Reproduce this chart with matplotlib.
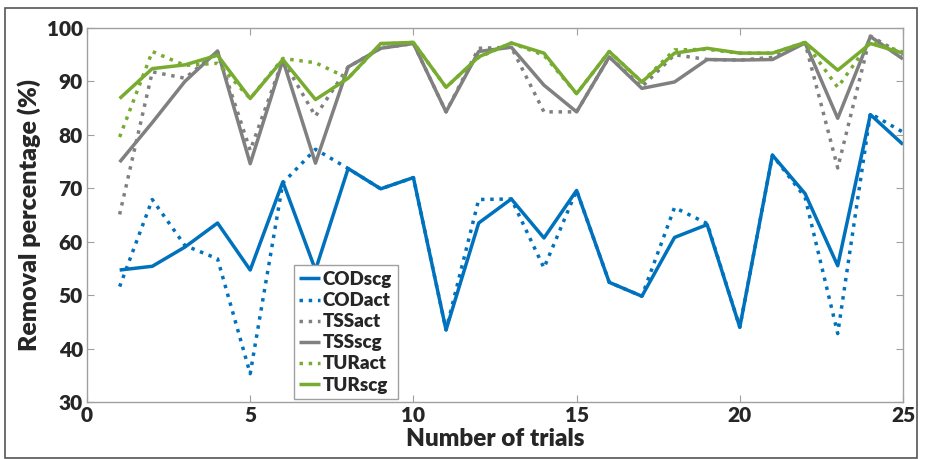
import matplotlib
matplotlib.use("Agg")
import matplotlib.pyplot as plt
from matplotlib.patches import Rectangle
import numpy as np

trials = list(range(1, 26))
cod_scg = [54.7, 55.4, 59.0, 63.5, 54.7, 71.2, 54.7, 73.7, 69.9, 72.0, 43.5, 63.5, 68.0,
           60.7, 69.6, 52.4, 49.8, 60.8, 63.2, 44.0, 76.2, 69.0, 55.5, 83.8, 78.2]
cod_act = [51.6, 67.9, 59.3, 56.8, 35.3, 71.0, 77.3, 73.7, 69.9, 72.0, 43.5, 67.9, 68.0,
           55.1, 69.6, 52.4, 49.8, 66.4, 63.4, 44.0, 76.2, 68.3, 42.8, 84.0, 80.5]
tss_act = [65.1, 91.8, 90.6, 95.6, 77.1, 94.0, 83.5, 92.7, 96.2, 97.1, 84.3, 96.2, 96.4,
           84.3, 84.3, 94.6, 89.0, 95.0, 94.1, 94.0, 94.5, 97.2, 73.8, 98.5, 95.0]
tss_scg = [74.9, 82.3, 90.0, 95.7, 74.6, 94.0, 74.7, 92.7, 96.2, 97.1, 84.3, 95.6, 96.4,
           89.3, 84.3, 94.6, 88.7, 89.9, 94.1, 94.0, 94.1, 97.2, 83.1, 98.4, 94.2]
tur_act = [79.6, 95.6, 93.0, 93.4, 86.8, 94.3, 93.5, 90.6, 97.0, 97.3, 88.9, 94.5, 97.2,
           94.9, 87.7, 95.6, 89.9, 95.9, 96.0, 95.3, 95.3, 97.3, 88.9, 97.5, 95.5]
tur_scg = [86.8, 92.4, 93.1, 94.9, 86.8, 94.1, 86.6, 90.6, 97.1, 97.3, 88.9, 94.6, 97.2,
           95.3, 87.7, 95.6, 89.9, 95.3, 96.2, 95.3, 95.3, 97.3, 92.1, 97.1, 95.3]

series = [
    ("CODscg", cod_scg, "#0072BD", "-"),
    ("CODact", cod_act, "#0072BD", ":"),
    ("TSSact", tss_act, "#808080", ":"),
    ("TSSscg", tss_scg, "#808080", "-"),
    ("TURact", tur_act, "#77AC30", ":"),
    ("TURscg", tur_scg, "#77AC30", "-"),
]
xticks = [0, 5, 10, 15, 20, 25]
yticks = [30, 40, 50, 60, 70, 80, 90, 100]

plt.rcParams['font.family'] = ['Lato', 'DejaVu Sans']
plt.rcParams['font.weight'] = 'bold'

fig = plt.figure(figsize=(9.25, 4.59), dpi=100)
W, H = 925, 459
ax = fig.add_axes([87 / W, 1 - 402 / H, (903 - 87) / W, (402 - 28) / H])

for name, vals, col, ls in series:
    ax.plot(trials, vals, color=col, linestyle=ls, linewidth=2.5, label=name,
            solid_capstyle='butt', dash_capstyle='butt')

ax.set_xlim(0, 25)
ax.set_ylim(30, 100)
ax.set_xticks(xticks)
ax.set_yticks(yticks)
ax.tick_params(direction='in', length=5, color='#a0a0a0', labelsize=15,
               labelcolor='#262626', width=0.8, top=True, right=True, pad=3)
for lab in ax.get_xticklabels() + ax.get_yticklabels():
    lab.set_fontweight('heavy')
for s in ax.spines.values():
    s.set_color('#a0a0a0')
    s.set_linewidth(1.0)

ax.set_xlabel("Number of trials", fontsize=17.5, fontweight='heavy', color='#262626', labelpad=2)
ax.set_ylabel("Removal percentage (%)", fontsize=18, fontweight='heavy', color='#262626', labelpad=4)

leg = ax.legend(loc='lower left', bbox_to_anchor=((291 - 87) / (903 - 87), 0.0),
                prop={'weight': 'heavy', 'size': 13.5}, handlelength=1.1,
                handletextpad=0.15, labelspacing=0.22, borderpad=0.3, fancybox=False,
                framealpha=1, edgecolor='#a0a0a0', borderaxespad=0.15)
leg.get_frame().set_linewidth(1.0)
for t in leg.get_texts():
    t.set_color('#262626')

fig.patches.append(Rectangle((5 / W, 1 - 458 / H), (917 - 5) / W, (458 - 8) / H,
                             transform=fig.transFigure, fill=False, edgecolor='#555555',
                             linewidth=1.2))

fig.savefig("out.png", dpi=100)
